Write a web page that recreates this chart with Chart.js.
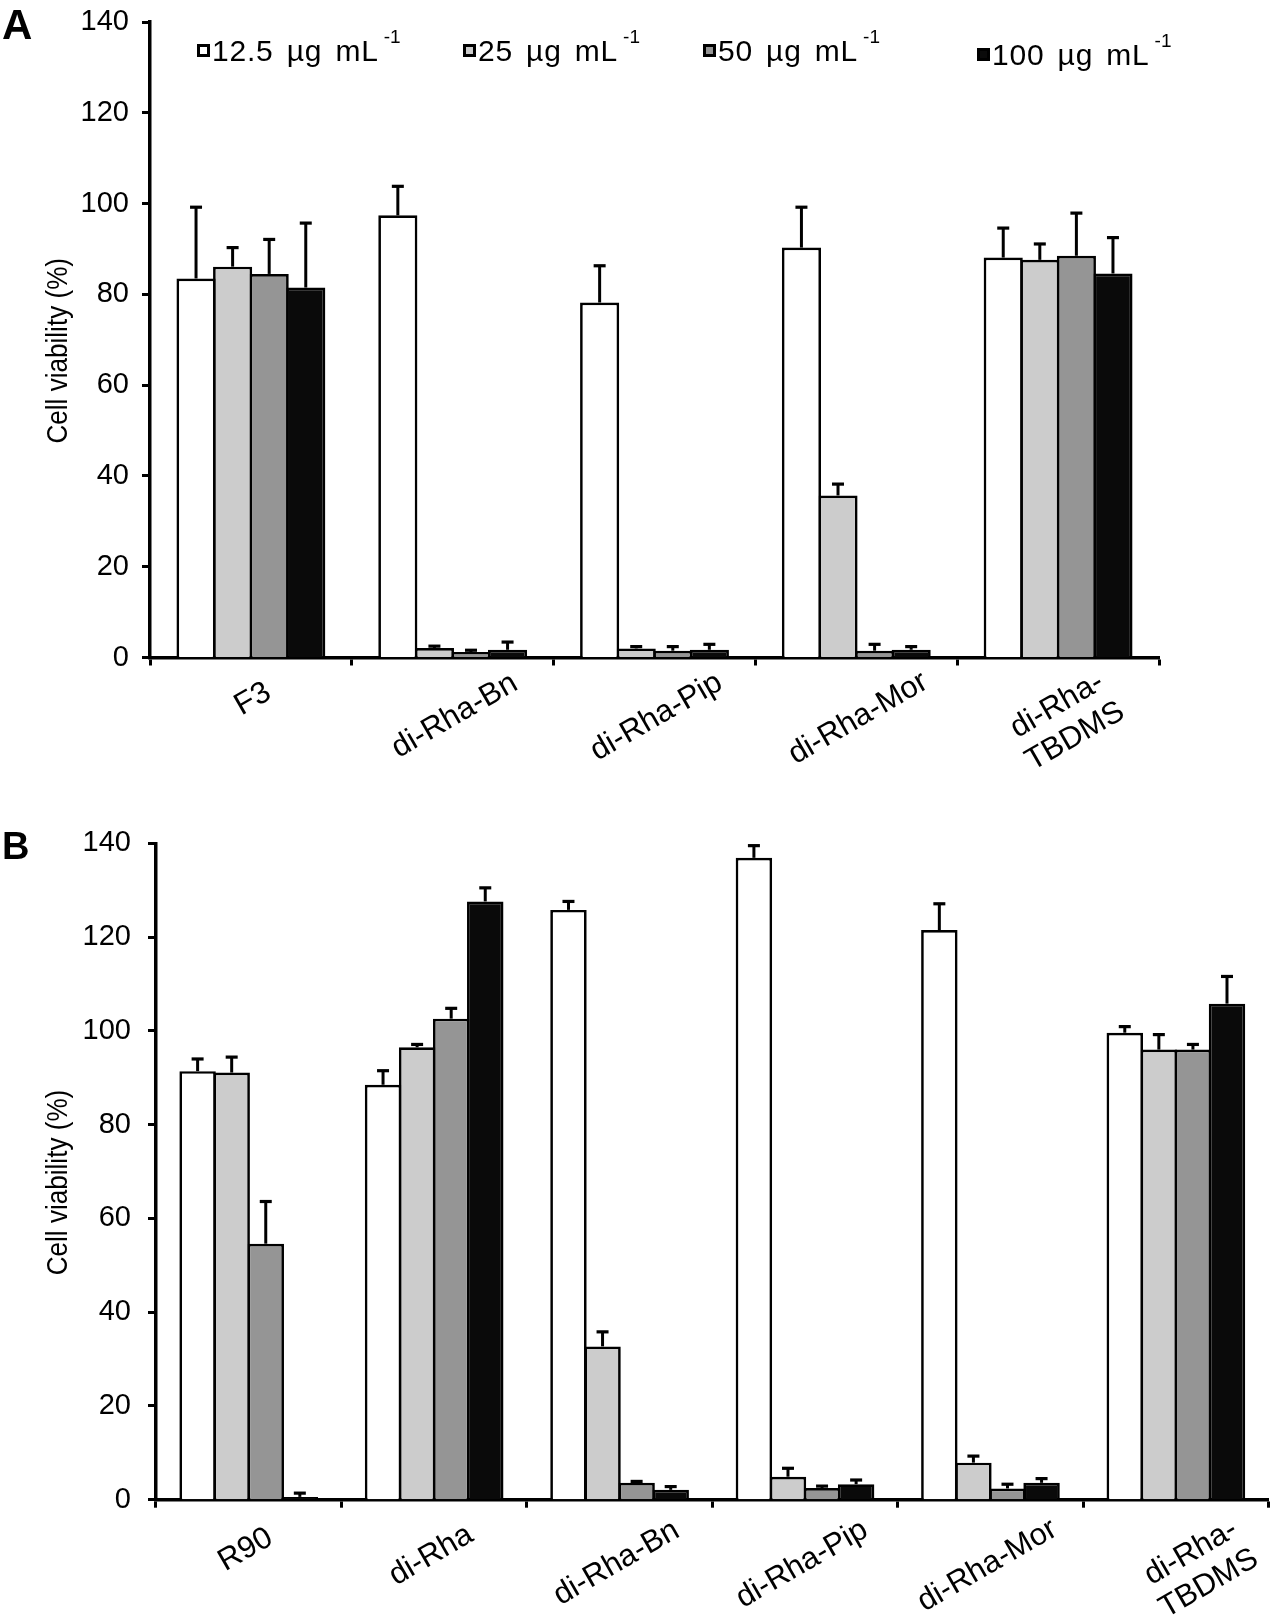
<!DOCTYPE html>
<html>
<head>
<meta charset="utf-8">
<title>Cell viability</title>
<script src="https://cdn.jsdelivr.net/npm/chart.js@4.4.1/dist/chart.umd.min.js"></script>
<style>
  html, body { margin:0; padding:0; background:#fff; }
  #page { position:relative; width:1280px; height:1616px; overflow:hidden;
          font-family:"Liberation Sans", Arial, Helvetica, sans-serif; color:#000; }
  canvas { position:absolute; left:0; }
  #cA { top:0; }
  #cB { top:800px; }
  .panel { position:absolute; left:2px; font-weight:bold; line-height:1; }
  .leg { position:absolute; font-size:30px; line-height:30px; white-space:nowrap;
         word-spacing:4px; letter-spacing:0.8px; }
  .leg .mk { position:absolute; left:-15px; top:8px; width:13px; height:13px;
             box-sizing:border-box; border:3px solid #000; }
  .leg .s { font-size:19px; position:relative; top:-18px; margin-left:5px; word-spacing:0; letter-spacing:0; }
</style>
</head>
<body>
<div id="page">
  <canvas id="cA" width="1280" height="800"></canvas>
  <canvas id="cB" width="1280" height="816"></canvas>
  <div class="panel" style="top:4px;font-size:42px;">A</div>
  <div class="panel" style="top:827px;font-size:38px;">B</div>
  <div id="legend"></div>
</div>
<script>
// ---------------- data ----------------
const seriesNames  = ['12.5', '25', '50', '100'];
const unitText     = 'µg mL';
const unitSup      = '-1';
const seriesColors = ['#ffffff', '#cccccc', '#959595', '#0a0a0a'];
const yTitle       = 'Cell viability (%)';
const yTicks       = [0, 20, 40, 60, 80, 100, 120, 140];

// Panel A
const categoriesA = ['F3', 'di-Rha-Bn', 'di-Rha-Pip', 'di-Rha-Mor', ['di-Rha-', 'TBDMS']];
const a12_5     = [83.5, 97.4, 78.2, 90.3, 88.1];
const a12_5Err  = [15.7,  6.4,  8.1,  8.9,  6.5];
const a25       = [86.1,  2.1,  2.0, 35.7, 87.6];
const a25Err    = [ 4.2,  0.4,  0.4,  2.5,  3.5];
const a50       = [84.5,  1.2,  1.5,  1.5, 88.5];
const a50Err    = [ 7.6,  0.4,  0.9,  1.4,  9.4];
const a100      = [81.5,  1.7,  1.7,  1.7, 84.6];
const a100Err   = [14.2,  1.7,  1.2,  0.7,  7.9];

// Panel B
const categoriesB = ['R90', 'di-Rha', 'di-Rha-Bn', 'di-Rha-Pip', 'di-Rha-Mor', ['di-Rha-', 'TBDMS']];
const b12_5     = [91.4,  88.5, 125.8, 136.9, 121.5,  99.6];
const b12_5Err  = [ 2.6,   3.0,   1.8,   2.6,   5.6,   1.3];
const b25       = [91.1,  96.5,  32.7,   4.9,   7.9,  96.0];
const b25Err    = [ 3.3,   0.6,   3.1,   1.8,   1.4,   3.2];
const b50       = [54.6, 102.6,   3.6,   2.5,   2.4,  96.0];
const b50Err    = [ 9.0,   2.2,   0.3,   0.4,   0.9,   1.1];
const b100      = [ 0.6, 127.6,   2.1,   3.3,   3.6, 105.8];
const b100Err   = [ 0.8,   2.9,   0.7,   0.9,   0.9,   5.8];

// ---------------- layout (not data) ----------------
const FONT = '"Liberation Sans", Arial, Helvetica, sans-serif';
const legendLayout = [
  { left: 212, top: 36 },
  { left: 478, top: 36 },
  { left: 718, top: 36 },
  { left: 992, top: 40 }
];
const geoA = { top: 22, right: 121, bottom: 134.5, yWidth: 150, tickPad: 13, cat: 0.725,
               dx: 2, dxMulti: 8, dyBase: 30, titleShift: 11 };
const geoB = { top: 43.3, right: 11.4, bottom: 108.3, yWidth: 156, tickPad: 17, cat: 0.735,
               dx: -3, dxMulti: 24, dyBase: 35, titleShift: 11 };

Chart.defaults.font.family = FONT;
Chart.defaults.color = '#000';

// ---------------- legend (HTML text) ----------------
(function buildLegend() {
  const host = document.getElementById('legend');
  seriesNames.forEach((name, k) => {
    const item = document.createElement('div');
    item.className = 'leg';
    item.style.left = legendLayout[k].left + 'px';
    item.style.top = legendLayout[k].top + 'px';
    const mk = document.createElement('span');
    mk.className = 'mk';
    mk.style.background = seriesColors[k];
    item.appendChild(mk);
    item.appendChild(document.createTextNode(name + ' ' + unitText));
    const s = document.createElement('span');
    s.className = 's';
    s.textContent = unitSup;
    item.appendChild(s);
    host.appendChild(item);
  });
})();

// ---------------- plugins ----------------
const errorBarPlugin = {
  id: 'errorBars',
  afterDatasetsDraw(chart) {
    const ctx = chart.ctx;
    const yScale = chart.scales.y;
    chart.data.datasets.forEach((ds, di) => {
      const meta = chart.getDatasetMeta(di);
      meta.data.forEach((bar, i) => {
        const v = ds.data[i];
        const e = ds.errors ? ds.errors[i] : 0;
        if (!e) return;
        const yTop = yScale.getPixelForValue(v + e);
        const yBase = bar.y;
        ctx.save();
        ctx.strokeStyle = '#000';
        ctx.lineWidth = 3;
        ctx.lineCap = 'butt';
        ctx.beginPath();
        ctx.moveTo(bar.x, yBase);
        ctx.lineTo(bar.x, yTop);
        ctx.stroke();
        ctx.lineWidth = 3.2;
        ctx.beginPath();
        ctx.moveTo(bar.x - 6, yTop);
        ctx.lineTo(bar.x + 6, yTop);
        ctx.stroke();
        ctx.restore();
      });
    });
  }
};

const axisTextPlugin = {
  id: 'axisText',
  afterDraw(chart, args, opts) {
    const ctx = chart.ctx;
    const xs = chart.scales.x;
    const area = chart.chartArea;
    const axisY = area.bottom;

    // category labels, rotated 30 degrees and centred under each category
    const ang = -Math.PI / 6;
    const lh = 36;
    ctx.save();
    ctx.font = '31px ' + FONT;
    ctx.fillStyle = '#000';
    ctx.textAlign = 'center';
    ctx.textBaseline = 'middle';
    chart.data.labels.forEach((lab, i) => {
      const lines = Array.isArray(lab) ? lab : [lab];
      const wmax = Math.max(...lines.map(l => ctx.measureText(l).width));
      const h = 22 + (lines.length - 1) * lh;
      const ext = wmax * 0.5 + h * 0.866;
      const cx = xs.getPixelForValue(i) + (lines.length > 1 ? opts.dxMulti : opts.dx);
      const cy = axisY + opts.dyBase + 0.32 * ext;
      ctx.save();
      ctx.translate(cx, cy);
      ctx.rotate(ang);
      lines.forEach((l, k) => {
        ctx.fillText(l, 0, (k - (lines.length - 1) / 2) * lh);
      });
      ctx.restore();
    });
    ctx.restore();

    // y-axis title
    ctx.save();
    ctx.font = '29px ' + FONT;
    ctx.fillStyle = '#000';
    ctx.textAlign = 'center';
    ctx.textBaseline = 'alphabetic';
    ctx.translate(67, (area.top + area.bottom) / 2 + opts.titleShift);
    ctx.rotate(-Math.PI / 2);
    ctx.scale(0.9, 1);
    ctx.fillText(opts.title, 0, 0);
    ctx.restore();
  }
};

// ---------------- charts ----------------
function buildChart(canvasId, labels, series, errs, geo) {
  const datasets = series.map((vals, k) => ({
    label: seriesNames[k] + ' ' + unitText + ' ' + unitSup,
    data: vals,
    errors: errs[k],
    backgroundColor: seriesColors[k],
    borderColor: '#000',
    borderWidth: 2.7,
    borderSkipped: 'start',
    categoryPercentage: geo.cat,
    barPercentage: 1.07
  }));
  return new Chart(document.getElementById(canvasId), {
    type: 'bar',
    data: { labels: labels, datasets: datasets },
    options: {
      responsive: false,
      animation: false,
      events: [],
      layout: { padding: { top: geo.top, right: geo.right, bottom: geo.bottom, left: 0 } },
      plugins: {
        legend: { display: false },
        tooltip: { enabled: false },
        axisText: { dx: geo.dx, dxMulti: geo.dxMulti, dyBase: geo.dyBase,
                    titleShift: geo.titleShift, title: yTitle }
      },
      scales: {
        x: {
          offset: true,
          ticks: { display: false },
          grid: { display: true, offset: true, drawOnChartArea: false, drawTicks: true,
                  tickLength: 8, tickWidth: 3, tickColor: '#000' },
          border: { display: true, color: '#000', width: 3.5 },
          afterFit(s) { s.height = 8; }
        },
        y: {
          min: yTicks[0],
          max: yTicks[yTicks.length - 1],
          afterBuildTicks(s) { s.ticks = yTicks.map(v => ({ value: v })); },
          ticks: { color: '#000', font: { size: 29, family: FONT }, padding: geo.tickPad },
          grid: { display: true, drawOnChartArea: false, drawTicks: true,
                  tickLength: 8, tickWidth: 3, tickColor: '#000' },
          border: { display: true, color: '#000', width: 3.5 },
          title: { display: false },
          afterFit(s) { s.width = geo.yWidth; s.paddingTop = 0; s.paddingBottom = 0; }
        }
      }
    },
    plugins: [errorBarPlugin, axisTextPlugin]
  });
}

buildChart('cA', categoriesA, [a12_5, a25, a50, a100], [a12_5Err, a25Err, a50Err, a100Err], geoA);
buildChart('cB', categoriesB, [b12_5, b25, b50, b100], [b12_5Err, b25Err, b50Err, b100Err], geoB);
</script>
</body>
</html>
